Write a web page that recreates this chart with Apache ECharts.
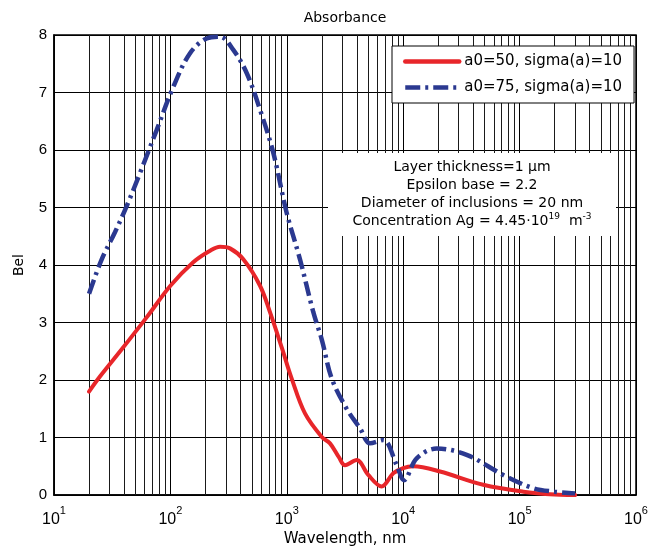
<!DOCTYPE html>
<html><head><meta charset="utf-8">
<script src="https://cdn.jsdelivr.net/npm/echarts@6/dist/echarts.min.js"></script>
<style>html,body{margin:0;padding:0;background:#fff}#c{width:652px;height:552px}</style>
</head><body><div id="c"></div>
<script>
// ---- data ----
const redName = 'a0=50, sigma(a)=10';
const blueName = 'a0=75, sigma(a)=10';
const redWavelength = [20, 25, 37, 62.5, 100, 157, 219, 267, 325, 423, 589, 717, 910, 1100, 1433, 2000, 2350, 2800, 3160, 3990, 5010, 6530, 8220, 10000, 12200, 20700, 48700, 107700, 200000, 300000];
const redBel = [1.8, 2.07, 2.5, 3.09, 3.64, 4.05, 4.25, 4.32, 4.29, 4.1, 3.64, 3.18, 2.55, 2.03, 1.42, 1.01, 0.9, 0.66, 0.52, 0.61, 0.35, 0.15, 0.38, 0.47, 0.5, 0.41, 0.18, 0.06, 0.01, 0.0];
const blueWavelength = [20, 25.7, 33.4, 42.2, 54.8, 76.3, 106, 147, 205, 267, 347, 452, 589, 766, 997, 1298, 1690, 2000, 2430, 3270, 4260, 5190, 6750, 8790, 10160, 13060, 19400, 35100, 72400, 131000, 200000, 300000];
const blueBel = [3.5, 4.1, 4.57, 5.03, 5.6, 6.35, 7.1, 7.68, 7.94, 7.97, 7.74, 7.34, 6.7, 5.95, 4.91, 4.1, 3.18, 2.7, 2.03, 1.5, 1.16, 0.9, 0.96, 0.52, 0.26, 0.64, 0.81, 0.7, 0.35, 0.12, 0.06, 0.03];
const xMin = 10, xMax = 1e6;
const yMin = 0, yMax = 8, yStep = 1;
const minorMultipliers = [2, 3, 4, 5, 6, 7, 8, 9];
const decades = [10, 100, 1000, 10000, 100000];
const annotationLines = [
  'Layer thickness=1 \u00b5m',
  'Epsilon base = 2.2',
  'Diameter of inclusions = 20 nm',
  'Concentration Ag = 4.45\u00b710{s|19}  m{s|-3}'
];

// ---- chart ----
const FONT = 'DejaVu Sans';
const TICKFONT = 'Liberation Sans';
const minorGrid = [];
decades.forEach(d => minorMultipliers.forEach(m => minorGrid.push({ xAxis: d * m })));
const pairs = (xs, ys) => xs.map((x, i) => [x, ys[i]]);

const chart = echarts.init(document.getElementById('c'), null, { renderer: 'canvas' });
chart.setOption({
  animation: false,
  backgroundColor: '#fff',
  textStyle: { fontFamily: FONT, color: '#000' },
  title: {
    text: 'Absorbance', left: 340, top: 6, textAlign: 'center',
    textStyle: { fontFamily: FONT, fontSize: 14, fontWeight: 'normal', color: '#000' }
  },
  grid: { left: 54, right: 16, top: 35, bottom: 55, show: true, borderColor: '#000', borderWidth: 1.5, backgroundColor: 'transparent' },
  legend: {
    orient: 'vertical', left: 392, top: 46,
    padding: [8, 12, 8, 11], itemGap: 11, itemWidth: 54, itemHeight: 14,
    backgroundColor: '#fff', borderColor: '#000', borderWidth: 1,
    itemStyle: { opacity: 0 },
    lineStyle: { width: 4.5 },
    textStyle: { fontFamily: FONT, fontSize: 15, color: '#000' },
    data: [redName, blueName]
  },
  xAxis: {
    type: 'log', logBase: 10, min: xMin, max: xMax,
    name: 'Wavelength, nm', nameLocation: 'middle', nameGap: 33,
    nameTextStyle: { fontFamily: FONT, fontSize: 15, color: '#000' },
    axisLine: { show: true, lineStyle: { color: '#000', width: 1.5 } },
    axisTick: { show: false },
    splitLine: { show: true, lineStyle: { color: '#000', width: 1 } },
    axisLabel: {
      margin: 10, color: '#000',
      formatter: v => '{b|10}{e|' + Math.round(Math.log10(v)) + '}',
      rich: {
        b: { fontFamily: TICKFONT, fontSize: 16, lineHeight: 22, verticalAlign: 'bottom', color: '#000' },
        e: { fontFamily: TICKFONT, fontSize: 11, lineHeight: 8, verticalAlign: 'top', color: '#000' }
      }
    }
  },
  yAxis: {
    type: 'value', min: yMin, max: yMax, interval: yStep,
    name: 'Bel', nameLocation: 'middle', nameGap: 28,
    nameTextStyle: { fontFamily: FONT, fontSize: 14, color: '#000' },
    axisLine: { show: true, lineStyle: { color: '#000', width: 1.5 } },
    axisTick: { show: false },
    splitLine: { show: true, lineStyle: { color: '#000', width: 1 } },
    axisLabel: { margin: 7, fontFamily: TICKFONT, fontSize: 15, color: '#000' }
  },
  series: [
    {
      name: 'minorGrid', type: 'line', data: [], silent: true, z: 1,
      markLine: {
        silent: true, symbol: 'none', z: 1, animation: false,
        label: { show: false },
        lineStyle: { color: '#1a1a1a', width: 1, type: 'solid' },
        emphasis: { disabled: true },
        data: minorGrid
      }
    },
    {
      name: redName, type: 'line', data: pairs(redWavelength, redBel), z: 3,
      showSymbol: false, symbol: 'none', smooth: 0.35,
      lineStyle: { color: '#E8262A', width: 4, cap: 'round', join: 'round' },
      itemStyle: { color: '#E8262A' }
    },
    {
      name: blueName, type: 'line', data: pairs(blueWavelength, blueBel), z: 3,
      showSymbol: false, symbol: 'none', smooth: 0.35,
      lineStyle: { color: '#2B3990', width: 4.5, type: [15, 5, 3, 5], cap: 'butt' },
      itemStyle: { color: '#2B3990' }
    }
  ],
  graphic: [
    {
      type: 'rect', z: 10, silent: true,
      shape: { x: 328, y: 153, width: 288, height: 83 },
      style: { fill: '#fff', lineWidth: 0 }
    },
    {
      type: 'text', z: 11, silent: true, x: 472, y: 158,
      style: {
        x: 0, y: 0,
        text: annotationLines.join('\n'),
        align: 'center', verticalAlign: 'top',
        font: '14px ' + FONT, fill: '#000', lineHeight: 18,
        rich: {
          s: { fontSize: 9, fontFamily: FONT, verticalAlign: 'top', lineHeight: 12, fill: '#000' }
        }
      }
    }
  ]
});
</script></body></html>
